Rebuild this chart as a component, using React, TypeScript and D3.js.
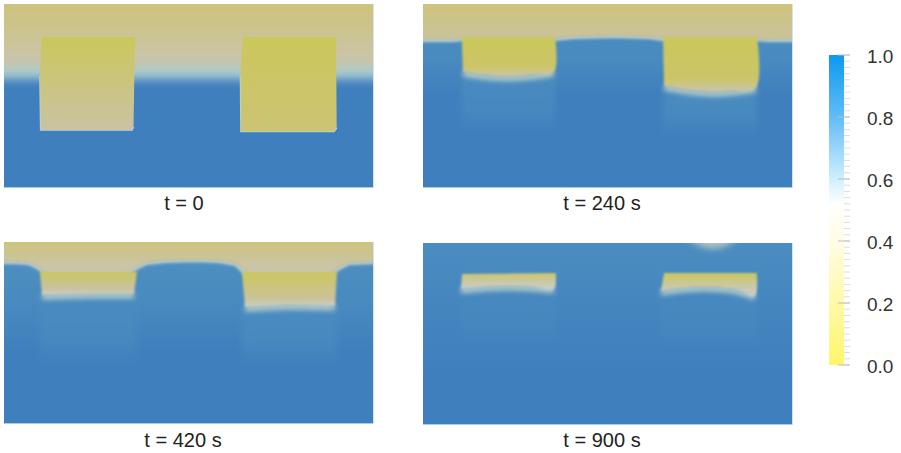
import React from 'react';
import * as d3 from 'd3';

type Pt = [number, number];

// captions
const captions = ['t = 0', 't = 240 s', 't = 420 s', 't = 900 s'];
const captionX = [180, 179, 179, 179];
const captionDy = [22, 22, 23, 22];

// panel corners in the page
const panelX = [4, 423, 4, 423];
const panelY = [4, 4, 242, 243];
const panelH = [184, 184, 182, 182];

// top (sand) layer lower boundary: [position, depth]
const surface0: Pt[] = [[-30, 63], [400, 63]];
const surface240: Pt[] = [[-30, 36], [30, 36], [40, 35], [130, 35], [150, 33], [190, 32], [225, 33], [240, 35], [335, 35], [345, 36], [400, 36]];
const surface420: Pt[] = [[-30, 20], [10, 20], [25, 21], [35, 26], [42, 33], [122, 33], [132, 26], [142, 21], [160, 19], [190, 18], [215, 19], [232, 22], [243, 33], [325, 33], [335, 26], [345, 21], [370, 20], [400, 20]];
const surface900: Pt[] = [[-30, -12], [262, -12], [272, -4], [282, 1], [290, 2], [298, 1], [308, -4], [318, -12], [400, -12]];
const surfaces = [surface0, surface240, surface420, surface900];
const surfaceBlur = [5, 1.6, 1.8, 3];
const haloWidth = [12, 2, 2, 4];
const haloColor = ['#a9cbcf', '#b5cdd0', '#b5cdd0', '#8fb9c8'];

// water-field value with depth: [depth, value]
const background0: Pt[] = [[0, 1], [184, 1]];
const background240: Pt[] = [[30, 0.86], [55, 0.88], [90, 1], [184, 1]];
const background420: Pt[] = [[15, 0.84], [60, 0.88], [110, 1], [184, 1]];
const background900: Pt[] = [[0, 0.85], [60, 0.92], [130, 1], [184, 1]];
const backgrounds = [background0, background240, background420, background900];

// sand-layer value with depth
const sand0: Pt[] = [[0, 0.24], [25, 0.3], [60, 0.42]];
const sand240: Pt[] = [[0, 0.22], [35, 0.36]];
const sand420: Pt[] = [[0, 0.25], [30, 0.42]];
const sand900: Pt[] = [[0, 0.42], [6, 0.46]];
const sands = [sand0, sand240, sand420, sand900];

// well outlines per panel
const wells0: Pt[][] = [
  [[37.7, 33], [131, 33], [129.5, 123], [128, 126], [36.7, 126], [36, 72]],
  [[238.7, 33], [332, 33], [332.7, 124], [330, 127.5], [237, 127.5], [236.5, 70]],
];
const wells240: Pt[][] = [
  [[38.7, 33], [132, 33], [131, 68], [110, 71], [85, 72.5], [60, 71], [40, 68]],
  [[240, 33], [334, 33], [333, 84], [310, 87], [290, 88], [265, 86], [241, 82]],
];
const wells420: Pt[][] = [
  [[36, 30], [133, 30], [130, 52], [85, 52], [38, 53]],
  [[238, 30], [333, 30], [331, 64], [285, 63], [241, 65]],
];
const wells900: Pt[][] = [
  [[39, 31], [132.7, 30], [131, 46], [110, 44], [85, 43], [60, 44], [38, 46]],
  [[241, 30], [333.7, 30], [332, 53], [315, 47], [285, 44], [260, 45], [238, 48]],
];
const wells = [wells0, wells240, wells420, wells900];

// value at well top and well bottom
const wellTop0 = [0.02, 0.02];
const wellBottom0 = [0.38, 0.18];
const wellTop240 = [0.02, 0.02];
const wellBottom240 = [0.1, 0.1];
const wellTop420 = [0.03, 0.03];
const wellBottom420 = [0.38, 0.34];
const wellTop900 = [0.12, 0.04];
const wellBottom900 = [0.46, 0.46];
const wellTops = [wellTop0, wellTop240, wellTop420, wellTop900];
const wellBottoms = [wellBottom0, wellBottom240, wellBottom420, wellBottom900];
const wellRimValue = [0.38, 0.42, 0.5, 0.5];

// depth at which the lighter plume under each well ends
const plumeEnd = [[0, 0], [128, 132], [124, 124], [102, 104]];
const plumeValue = [1, 0.87, 0.87, 0.9];

// colour bar
const barTicks = [0, 0.2, 0.4, 0.6, 0.8, 1];
const minorTicks = d3.range(51).map((i) => i * 0.02);
const barValues = [1, 0.8, 0.6, 0.52, 0.4, 0.2, 0];
const barColors = ['#0c99ef', '#62bcf6', '#cfeffe', '#ffffff', '#fffde6', '#fff9a8', '#fff66a'];

const fieldDomain = [0, 0.25, 0.4, 0.5, 0.65, 0.85, 1];
const fieldRange = ['#cbc758', '#cdc37f', '#c9c2a8', '#c9d0c6', '#8fb9c8', '#4b8dc0', '#3f7fbd'];

const W = 370;

const Panel: React.FC<{ i: number }> = ({ i }) => {
  const H = panelH[i];
  const x = d3.scaleLinear().domain([0, 370]).range([0, W]);
  const y = d3.scaleLinear().domain([0, 184]).range([0, 184]);
  const color = d3.scaleLinear<string>().domain(fieldDomain).range(fieldRange).clamp(true);
  const area = d3.area<Pt>().x((d) => x(d[0])).y0(y(-30)).y1((d) => y(d[1]));
  const line = d3.line<Pt>().x((d) => x(d[0])).y((d) => y(d[1]));
  const bottomCurve = i === 1 || i === 3 ? d3.curveCatmullRom : d3.curveLinear;
  const smooth = d3.line<Pt>().x((d) => x(d[0])).y((d) => y(d[1])).curve(bottomCurve);

  const outline = (w: Pt[]) => `M${x(w[0][0])},${y(w[0][1])}L${smooth(w.slice(1))!.slice(1)}Z`;
  // only the lower part of a well keeps a pale rim
  const lowerEdge = (w: Pt[]) => {
    const top = d3.min(w, (d) => d[1])!;
    return smooth(w.filter((d) => d[1] > top + 12))!;
  };

  const stops = (pts: Pt[], max: number) =>
    pts.map((d, k) => <stop key={k} offset={d[0] / max} stopColor={color(d[1])} />);

  return (
    <g transform={`translate(${panelX[i]},${panelY[i]})`}>
      <defs>
        <clipPath id={`clip${i}`}><rect width={W} height={H} /></clipPath>
        <linearGradient id={`bg${i}`} gradientUnits="userSpaceOnUse" x1={0} x2={0} y1={0} y2={y(184)}>
          {stops(backgrounds[i], 184)}
        </linearGradient>
        <linearGradient id={`sand${i}`} gradientUnits="userSpaceOnUse" x1={0} x2={0} y1={0} y2={y(70)}>
          {stops(sands[i], 70)}
        </linearGradient>
        <filter id={`soft${i}`} filterUnits="userSpaceOnUse" x={-40} y={-40} width={450} height={200}>
          <feGaussianBlur stdDeviation={surfaceBlur[i]} />
        </filter>
        <filter id={`rim${i}`} filterUnits="userSpaceOnUse" x={-40} y={-40} width={450} height={220}>
          <feGaussianBlur stdDeviation={i === 0 ? 0.5 : 2.4} />
        </filter>
        <filter id={`edge${i}`} filterUnits="userSpaceOnUse" x={-40} y={-40} width={450} height={220}>
          <feGaussianBlur stdDeviation={i === 0 ? 0.5 : 0.9} />
        </filter>
        <filter id={`plume${i}`} filterUnits="userSpaceOnUse" x={-40} y={-40} width={450} height={260}>
          <feGaussianBlur stdDeviation={3} />
        </filter>
        {wells[i].map((w, k) => {
          const ys = w.map((d) => d[1]);
          return (
            <linearGradient key={k} id={`well${i}-${k}`} gradientUnits="userSpaceOnUse" x1={0} x2={0} y1={y(d3.min(ys)!)} y2={y(d3.max(ys)!)}>
              <stop offset={0} stopColor={color(wellTops[i][k])} />
              <stop offset={i === 0 ? 1 : 0.75} stopColor={color(wellBottoms[i][k])} />
              {i > 0 && <stop offset={1} stopColor={color(wellRimValue[i])} />}
            </linearGradient>
          );
        })}
        {wells[i].map((w, k) => (
          <linearGradient key={k} id={`pl${i}-${k}`} x1={0} x2={0} y1={0} y2={1}>
            <stop offset={0} stopColor={color(plumeValue[i])} stopOpacity={1} />
            <stop offset={0.6} stopColor={color(plumeValue[i])} stopOpacity={0.8} />
            <stop offset={1} stopColor={color(plumeValue[i])} stopOpacity={0} />
          </linearGradient>
        ))}
      </defs>
      <g clipPath={`url(#clip${i})`}>
        <rect width={W} height={H} fill={`url(#bg${i})`} />
        {wells[i].map((w, k) => {
          if (!plumeEnd[i][k]) return null;
          const xs = w.map((d) => d[0]);
          const ys = w.map((d) => d[1]);
          return (
            <rect key={k} x={x(d3.min(xs)!)} width={x(d3.max(xs)!) - x(d3.min(xs)!)}
              y={y(d3.max(ys)!)} height={y(plumeEnd[i][k] - d3.max(ys)!)}
              fill={`url(#pl${i}-${k})`} filter={`url(#plume${i})`} />
          );
        })}
        <path d={line(surfaces[i])!} fill="none" stroke={haloColor[i]} strokeWidth={haloWidth[i] * 2} filter={`url(#soft${i})`} />
        <path d={area(surfaces[i])!} fill={`url(#sand${i})`} filter={`url(#soft${i})`} />
        {wells[i].map((w, k) => (
          <path key={k} d={lowerEdge(w)} fill="none" stroke={i === 0 ? '#b7d3da' : '#b4ccc8'}
            strokeWidth={i === 0 ? 1.6 : 6} filter={`url(#rim${i})`}
            transform={i === 0 ? undefined : 'translate(0,1.5)'} />
        ))}
        {wells[i].map((w, k) => (
          <path key={k} d={outline(w)} fill={`url(#well${i}-${k})`} filter={`url(#edge${i})`} />
        ))}
        <line x1={0} x2={W} y1={H - 0.5} y2={H - 0.5} stroke="#a9cde8" strokeWidth={1} />
        <line x1={W - 0.5} x2={W - 0.5} y1={0} y2={H} stroke="#cfe3f2" strokeWidth={1} />
      </g>
      <text x={captionX[i]} y={H + captionDy[i]} textAnchor="middle" fontFamily="'Liberation Sans', Arial, sans-serif" fontSize={20} fill="#222">
        {captions[i]}
      </text>
    </g>
  );
};

export default function App() {
  const barY = d3.scaleLinear().domain([0, 1]).range([365, 55]);
  const offset = d3.scaleLinear().domain([1, 0]).range([0, 1]);
  return (
    <svg width={901} height={453} style={{ position: 'absolute', left: 0, top: 0, background: '#fff' }}>
      <defs>
        <linearGradient id="bar" x1={0} x2={0} y1={0} y2={1}>
          {barValues.map((v, k) => <stop key={k} offset={offset(v)} stopColor={barColors[k]} />)}
        </linearGradient>
      </defs>
      {captions.map((_, i) => <Panel key={i} i={i} />)}
      <rect x={829} y={barY(1)} width={15} height={barY(0) - barY(1)} fill="url(#bar)" />
      {minorTicks.map((v, k) => (
        <line key={k} x1={844} x2={850} y1={barY(v)} y2={barY(v)} stroke="#dcdcdc" strokeWidth={1} />
      ))}
      {barTicks.map((v) => (
        <g key={v}>
          <line x1={838} x2={850} y1={barY(v)} y2={barY(v)} stroke="#bdbdbd" strokeWidth={1} />
          <text x={867} y={barY(v) + 8} fontFamily="'Liberation Sans', Arial, sans-serif" fontSize={19} fill="#333">
            {d3.format('.1f')(v)}
          </text>
        </g>
      ))}
    </svg>
  );
}
